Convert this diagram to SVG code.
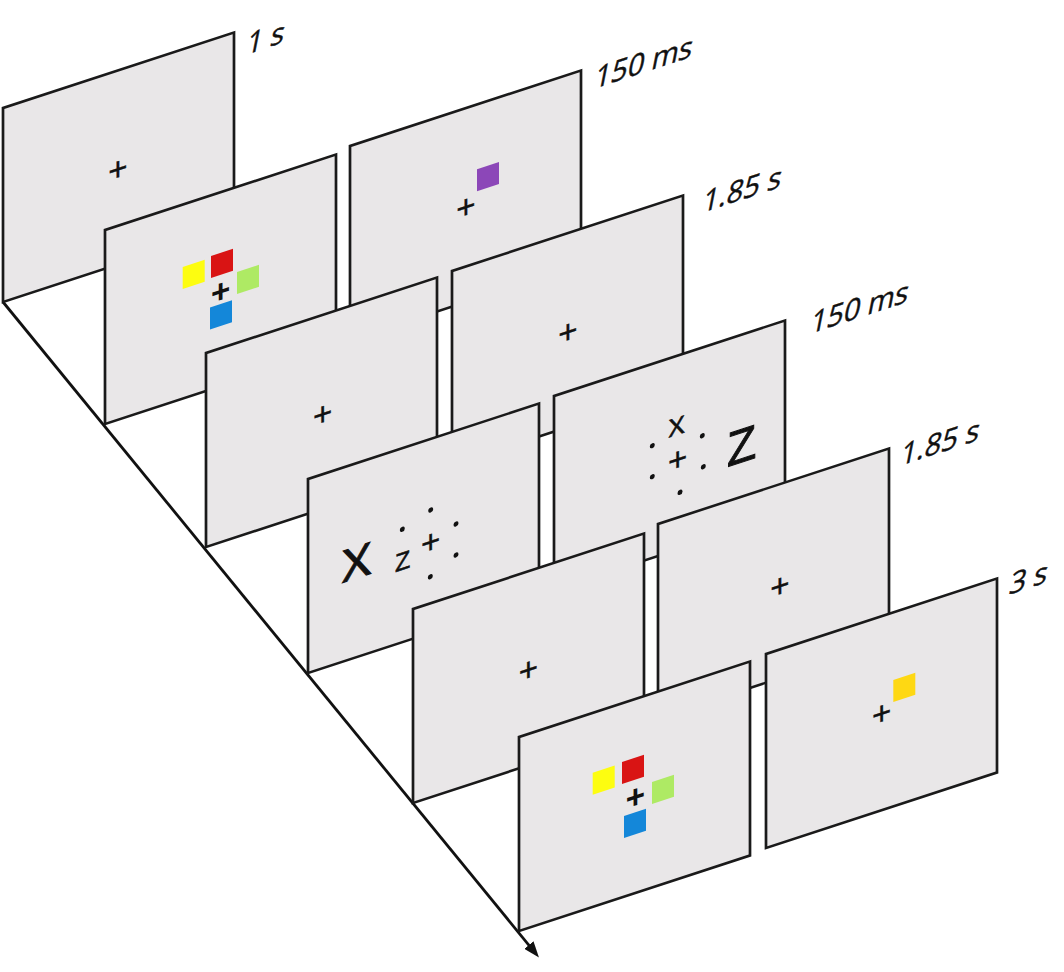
<svg xmlns="http://www.w3.org/2000/svg" width="1064" height="972" viewBox="0 0 1064 972">
<style>
.panel{fill:#e9e7e8;stroke:#1a1a1a;stroke-width:2.7}
.fix{font-family:"Liberation Sans",Arial,sans-serif;font-size:33px;text-anchor:middle;fill:#111;stroke:#111;stroke-width:0.4}
.fixb{font-family:"Liberation Sans",Arial,sans-serif;font-size:33px;font-weight:bold;text-anchor:middle;fill:#111}
.let{font-family:"Liberation Sans",Arial,sans-serif;text-anchor:middle;fill:#111;stroke:#111;stroke-width:0.6}
.big{stroke-width:1}
.lbl{font-family:"Open Sans","Liberation Sans",sans-serif;font-size:29px;fill:#111;stroke:#111;stroke-width:0.4}
.dot{fill:#111}
.axis{stroke:#111;stroke-width:2.8;fill:none}
</style>
<defs>
<marker id="arrow" markerUnits="userSpaceOnUse" markerWidth="16" markerHeight="12" refX="8" refY="6" orient="auto">
<path d="M0,0 L16,6 L0,12 z" fill="#111"/>
</marker>
</defs>
<g id="connectors">
<line class="axis" x1="3" y1="302" x2="533.9" y2="951.3" marker-end="url(#arrow)"/>
</g>

<g id="panel-1">
<g transform="translate(3,108) skewY(-18.1)">
<rect class="panel" width="231" height="194"/>
<text class="fix" x="115" y="110">+</text>
</g>
<text class="lbl" transform="translate(245,55) skewY(-18.1) skewX(-12)">1 s</text>
</g>

<g id="panel-A">
<g transform="translate(350,146) skewY(-18.1)">
<rect class="panel" width="231" height="194"/>
<rect x="127" y="64.8" width="22" height="22" fill="#8c47b8"/>
<text class="fix" x="116" y="110">+</text>
</g>
<text class="lbl" transform="translate(593,89) skewY(-18.1) skewX(-12)">150 ms</text>
</g>

<g id="panel-2">
<g transform="translate(105,230) skewY(-18.1)">
<rect class="panel" width="231" height="194"/>
<rect x="77.7" y="62.3" width="22" height="22" fill="#fdfd10"/>
<rect x="106" y="60.6" width="22" height="22" fill="#d91414"/>
<rect x="132" y="85.1" width="22" height="22" fill="#aeea64"/>
<rect x="105" y="111.8" width="22" height="22" fill="#1487d9"/>
<text class="fixb" x="115.7" y="110.5">+</text>
</g>
</g>

<g id="panel-B">
<g transform="translate(452,271) skewY(-18.1)">
<rect class="panel" width="231" height="194"/>
<text class="fix" x="116" y="110">+</text>
</g>
<text class="lbl" transform="translate(701,213) skewY(-18.1) skewX(-12)">1.85 s</text>
</g>

<g id="panel-3">
<g transform="translate(206,353) skewY(-18.1)">
<rect class="panel" width="231" height="194"/>
<text class="fix" x="116.7" y="110.6">+</text>
</g>
</g>

<g id="panel-C">
<g transform="translate(554,396) skewY(-18.1)">
<rect class="panel" width="231" height="194"/>
<text class="let" x="122.7" y="79.2" font-size="25">X</text>
<circle class="dot" cx="98.3" cy="81.8" r="2.5"/>
<circle class="dot" cx="148.3" cy="88.2" r="2.5"/>
<circle class="dot" cx="98.3" cy="112.8" r="2.5"/>
<circle class="dot" cx="149.3" cy="119.5" r="2.5"/>
<circle class="dot" cx="126" cy="137.5" r="2.5"/>
<text class="fix" x="123.7" y="115">+</text>
<text class="let big" x="187.7" y="127.6" font-size="48">Z</text>
</g>
<text class="lbl" transform="translate(809,334) skewY(-18.1) skewX(-12)">150 ms</text>
</g>

<g id="panel-4">
<g transform="translate(308,479) skewY(-18.1)">
<rect class="panel" width="231" height="194"/>
<text class="let big" x="48.7" y="115.1" font-size="46">X</text>
<text class="let" x="94.7" y="121.7" font-size="25">Z</text>
<circle class="dot" cx="94.3" cy="81.1" r="2.5"/>
<circle class="dot" cx="122.7" cy="71.1" r="2.5"/>
<circle class="dot" cx="148" cy="93.4" r="2.5"/>
<circle class="dot" cx="148" cy="124.4" r="2.5"/>
<circle class="dot" cx="122.3" cy="137.7" r="2.5"/>
<text class="fix" x="122.7" y="114.2">+</text>
</g>
</g>

<g id="panel-D">
<g transform="translate(658,524) skewY(-18.1)">
<rect class="panel" width="231" height="194"/>
<text class="fix" x="122" y="113">+</text>
</g>
<text class="lbl" transform="translate(899,466) skewY(-18.1) skewX(-12)">1.85 s</text>
</g>

<g id="panel-5">
<g transform="translate(413,609) skewY(-18.1)">
<rect class="panel" width="231" height="194"/>
<text class="fix" x="115.3" y="109.6">+</text>
</g>
</g>

<g id="panel-E">
<g transform="translate(766,654) skewY(-18.1)">
<rect class="panel" width="231" height="194"/>
<rect x="127.3" y="67.6" width="22" height="22" fill="#fed813"/>
<text class="fix" x="115.7" y="108.5">+</text>
</g>
<text class="lbl" transform="translate(1008,595) skewY(-18.1) skewX(-12)">3 s</text>
</g>

<g id="panel-6">
<g transform="translate(519,737) skewY(-18.1)">
<rect class="panel" width="231" height="194"/>
<rect x="73.7" y="59.9" width="22" height="22" fill="#fdfd10"/>
<rect x="103" y="58.6" width="22" height="22" fill="#d91414"/>
<rect x="133" y="88.5" width="22" height="22" fill="#aeea64"/>
<rect x="105" y="113.2" width="22" height="22" fill="#1487d9"/>
<text class="fixb" x="116.3" y="109.1">+</text>
</g>
</g>
</svg>
